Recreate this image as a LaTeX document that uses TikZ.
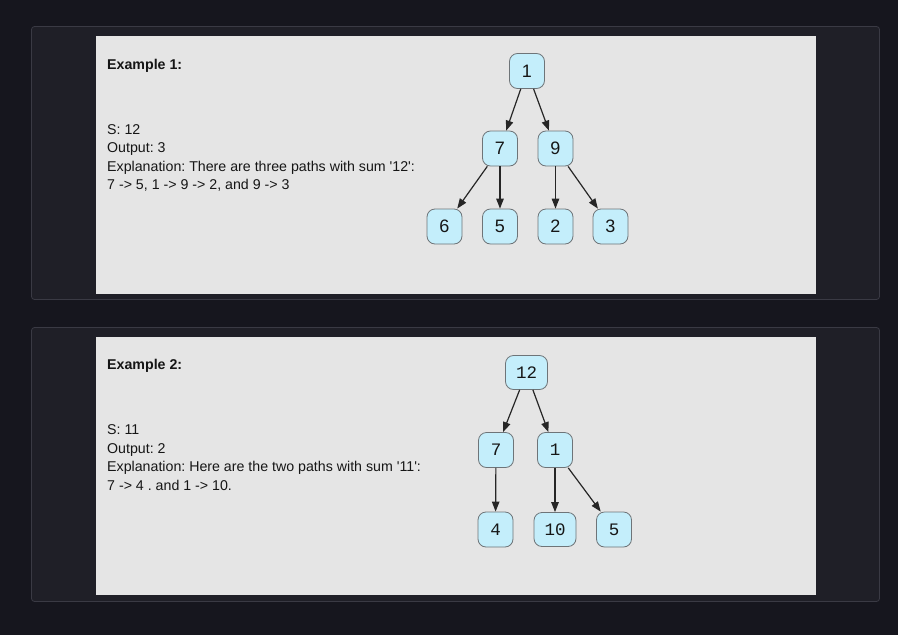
\documentclass[tikz,border=0pt]{standalone}
\usepackage{fontspec}
\setmainfont{Liberation Sans}
\newfontfamily\monof{Liberation Mono}
\usetikzlibrary{arrows.meta}
\frenchspacing
\definecolor{bgdark}{HTML}{16161E}
\definecolor{panelfill}{HTML}{1F1F27}
\definecolor{panelline}{HTML}{3A3A44}
\definecolor{contentbg}{HTML}{E5E5E5}
\definecolor{nodefill}{HTML}{C4EEFB}
\definecolor{nodeline}{HTML}{6E7478}
\definecolor{edgecol}{HTML}{262626}
\definecolor{txt}{HTML}{161616}
\tikzset{
  panel/.style={fill=panelfill,draw=panelline,line width=0.8pt,rounded corners=3pt},
  content/.style={fill=contentbg,draw=none},
  tnode/.style={draw=nodeline,fill=nodefill,line width=0.8pt,rounded corners=8pt,
    minimum width=35pt,minimum height=35pt,inner sep=0pt,text=txt,font=\fontsize{18}{20}\selectfont},
  mnode/.style={tnode,font=\monof\fontsize{17.5}{19}\selectfont},
  wide/.style={minimum width=42pt,minimum height=34pt},
  edge/.style={draw=edgecol,line width=1.2pt,-{Triangle[length=10pt,width=7.5pt]}},
  label/.style={anchor=base west,inner sep=0pt,text=txt,font=\fontsize{14.2}{16}\selectfont},
  title/.style={label,font=\bfseries\fontsize{14.2}{16}\selectfont}
}
\begin{document}
\begin{tikzpicture}[x=1pt,y=-1pt]
\fill[bgdark] (0,0) rectangle (898,635);
\useasboundingbox (0,0) rectangle (898,635);
% panels
\path[panel] (31.5,26.5) rectangle (879.5,299.5);
\path[panel] (31.5,327.5) rectangle (879.5,601.5);
\path[content] (96,36) rectangle (816,294);
\path[content] (96,337) rectangle (816,595);

% Example 1 text
\node[title] (t1) at (107,69) {Example 1:};
\node[label] (s1) at (107,134) {S: 12};
\node[label] (o1) at (107,152.5) {Output: 3};
\node[label] (e1) at (107,171) {Explanation: There are three paths with sum \textquotesingle12\textquotesingle:};
\node[label] (f1) at (107,189.5) {7 -> 5, 1 -> 9 -> 2, and 9 -> 3};

% Tree 1
\node[tnode] (a1) at (527,71) {1};
\node[tnode] (a7) at (500,148.5) {7};
\node[tnode] (a9) at (555.5,148.5) {9};
\node[tnode] (a6) at (444.5,226.5) {6};
\node[tnode] (a5) at (500,226.5) {5};
\node[tnode] (a2) at (555.5,226.5) {2};
\node[tnode] (a3) at (610.5,226.5) {3};
\draw[edge] (a1) -- (a7);
\draw[edge] (a1) -- (a9);
\draw[edge] (a7) -- (a6);
\draw[edge] (a7) -- (a5);
\draw[edge] (a9) -- (a2);
\draw[edge] (a9) -- (a3);

% Example 2 text
\node[title] (t2) at (107,369) {Example 2:};
\node[label] (s2) at (107,434.5) {S: 11};
\node[label] (o2) at (107,453) {Output: 2};
\node[label] (e2) at (107,471.5) {Explanation: Here are the two paths with sum \textquotesingle11\textquotesingle:};
\node[label] (f2) at (107,490) {7 -> 4 . and 1 -> 10.};

% Tree 2
\node[mnode,wide] (b12) at (526.5,372.5) {12};
\node[mnode] (b7) at (496,450) {7};
\node[mnode] (b1) at (555,450) {1};
\node[mnode] (b4) at (495.5,529.5) {4};
\node[mnode,wide] (b10) at (555,529.5) {10};
\node[mnode] (b5) at (614,529.5) {5};
\draw[edge] (b12) -- (b7);
\draw[edge] (b12) -- (b1);
\draw[edge] (b7) -- (b4);
\draw[edge] (b1) -- (b10);
\draw[edge] (b1) -- (b5);
\end{tikzpicture}
\end{document}
